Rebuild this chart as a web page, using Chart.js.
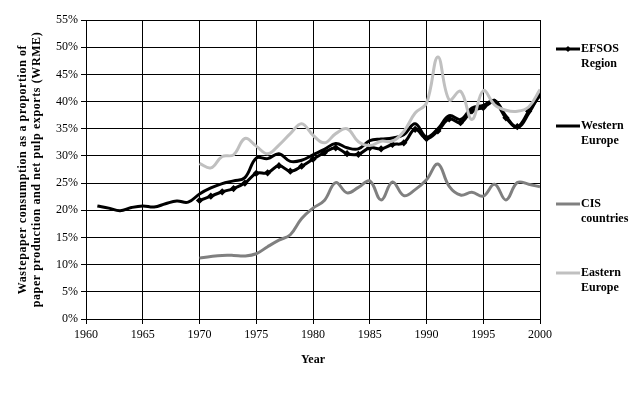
<!DOCTYPE html>
<html>
<head>
<meta charset="utf-8">
<script src="https://cdn.jsdelivr.net/npm/chart.js@4"></script>
<style>
  body { margin: 0; background: #fff; }
  canvas { display: block; }
</style>
</head>
<body>
<canvas id="chart" width="642" height="394"></canvas>
<script>
// Years on the x axis (Western Europe runs from 1961, the others from 1970)
const years = [
  1961, 1962, 1963, 1964, 1965, 1966, 1967, 1968, 1969, 1970,
  1971, 1972, 1973, 1974, 1975, 1976, 1977, 1978, 1979, 1980,
  1981, 1982, 1983, 1984, 1985, 1986, 1987, 1988, 1989, 1990,
  1991, 1992, 1993, 1994, 1995, 1996, 1997, 1998, 1999, 2000,
]
const years1970 = years.slice(9)

// Wastepaper consumption as % of paper production and net pulp exports
const westernEurope = [
  20.8, 20.4, 19.9, 20.5, 20.8, 20.6, 21.2, 21.7, 21.5, 23.0,
  24.1, 24.9, 25.4, 26.0, 29.6, 29.5, 30.4, 29.0, 29.2, 30.2,
  31.2, 32.3, 31.5, 31.3, 32.8, 33.1, 33.3, 33.9, 35.9, 33.5,
  35.0, 37.4, 36.7, 38.8, 39.3, 40.2, 37.3, 35.2, 37.8, 41.6,
]
const efsosRegion = [
  21.8, 22.6, 23.4, 24.0, 25.0, 26.8, 26.9, 28.2, 27.2, 28.1,
  29.4, 30.6, 31.5, 30.4, 30.3, 31.5, 31.3, 32.1, 32.4, 34.9,
  33.2, 34.6, 36.8, 36.1, 38.3, 38.9, 39.9, 37.0, 35.4, 38.2, 41.2,
]
const cisCountries = [
  11.2, 11.5, 11.7, 11.7, 11.6, 12.0, 13.3, 14.5, 15.5, 18.5,
  20.4, 21.8, 25.1, 23.2, 24.2, 25.4, 21.9, 25.2, 22.7, 23.8,
  25.6, 28.5, 24.4, 22.8, 23.3, 22.6, 24.8, 21.9, 25.1, 24.8, 24.3,
]
const easternEurope = [
  28.6, 27.8, 29.9, 30.2, 33.2, 31.8, 30.4, 32.0, 34.1, 35.9,
  33.8, 32.4, 34.1, 35.0, 32.6, 31.9, 32.7, 32.7, 34.5, 37.9,
  39.7, 48.2, 40.3, 41.9, 36.7, 42.0, 39.4, 38.4, 38.2, 39.0, 42.2,
]

const seriesNames = [["EFSOS", "Region"], ["Western", "Europe"], ["CIS", "countries"], ["Eastern", "Europe"]]
const legendY = [49, 126, 204, 273] // y of each legend sample line

const toPoints = (xs, ys) => ys.map((v, i) => ({ x: xs[i], y: v }))

const FONT = "'Liberation Serif', 'Times New Roman', serif"

// Axis titles and the two-line legend are drawn by hand
const extrasPlugin = {
  id: "extras",
  afterDraw(chart) {
    const ctx = chart.ctx
    const area = chart.chartArea
    ctx.save()
    ctx.fillStyle = "#000"
    ctx.font = "bold 12px " + FONT
    ctx.textAlign = "center"
    ctx.textBaseline = "middle"

    // y axis title, spaced out a little like the original
    ctx.save()
    ctx.letterSpacing = "0.6px"
    ctx.translate(23, (area.top + area.bottom) / 2)
    ctx.rotate(-Math.PI / 2)
    ctx.fillText("Wastepaper consumption as a proportion of", 0, 0)
    ctx.fillText("paper production and net pulp exports (WRME)", 0, 14)
    ctx.restore()

    // x axis title
    ctx.fillText("Year", (area.left + area.right) / 2, 360)

    // legend
    ctx.textAlign = "left"
    chart.data.datasets.forEach((ds, i) => {
      const y = legendY[i]
      ctx.strokeStyle = ds.borderColor
      ctx.lineWidth = 3
      ctx.beginPath()
      ctx.moveTo(556, y)
      ctx.lineTo(580, y)
      ctx.stroke()
      if (ds.pointRadius > 0) {
        ctx.fillStyle = ds.borderColor
        ctx.beginPath()
        ctx.moveTo(568, y - 3)
        ctx.lineTo(571, y)
        ctx.lineTo(568, y + 3)
        ctx.lineTo(565, y)
        ctx.closePath()
        ctx.fill()
      }
      ctx.fillStyle = "#000"
      seriesNames[i].forEach((line, j) => ctx.fillText(line, 581, y + j * 15))
    })
    ctx.restore()
  },
}

new Chart(document.getElementById("chart"), {
  type: "line",
  data: {
    datasets: [
      {
        label: "EFSOS Region",
        data: toPoints(years1970, efsosRegion),
        borderColor: "#000000",
        backgroundColor: "#000000",
        borderWidth: 3,
        pointStyle: "rectRot",
        pointRadius: 1.5,
        order: 1,
      },
      {
        label: "Western Europe",
        data: toPoints(years, westernEurope),
        borderColor: "#000000",
        borderWidth: 3,
        pointRadius: 0,
        order: 2,
      },
      {
        label: "CIS countries",
        data: toPoints(years1970, cisCountries),
        borderColor: "#808080",
        borderWidth: 3,
        pointRadius: 0,
        order: 3,
      },
      {
        label: "Eastern Europe",
        data: toPoints(years1970, easternEurope),
        borderColor: "#c0c0c0",
        borderWidth: 3,
        pointRadius: 0,
        order: 0,
      },
    ],
  },
  options: {
    responsive: false,
    animation: false,
    layout: { padding: { left: 0, top: 20, right: 102, bottom: 0 } },
    elements: { line: { tension: 0.4, fill: false } },
    plugins: { legend: { display: false }, tooltip: { enabled: false } },
    scales: {
      x: {
        type: "linear",
        min: 1960,
        max: 2000,
        afterFit: (scale) => { scale.height = 75 },
        ticks: {
          stepSize: 5,
          color: "#000",
          font: { family: FONT, size: 12 },
          padding: 4,
          maxRotation: 0,
          callback: (v) => String(v),
        },
        grid: { color: "#000", lineWidth: 1, tickLength: 5 },
        border: { color: "#000" },
      },
      y: {
        min: 0,
        max: 55,
        afterFit: (scale) => { scale.width = 86 },
        ticks: {
          stepSize: 5,
          color: "#000",
          font: { family: FONT, size: 12 },
          padding: 3,
          callback: (v) => v + "%",
        },
        grid: { color: "#000", lineWidth: 1, tickLength: 5 },
        border: { color: "#000" },
      },
    },
  },
  plugins: [extrasPlugin],
})
</script>
</body>
</html>
